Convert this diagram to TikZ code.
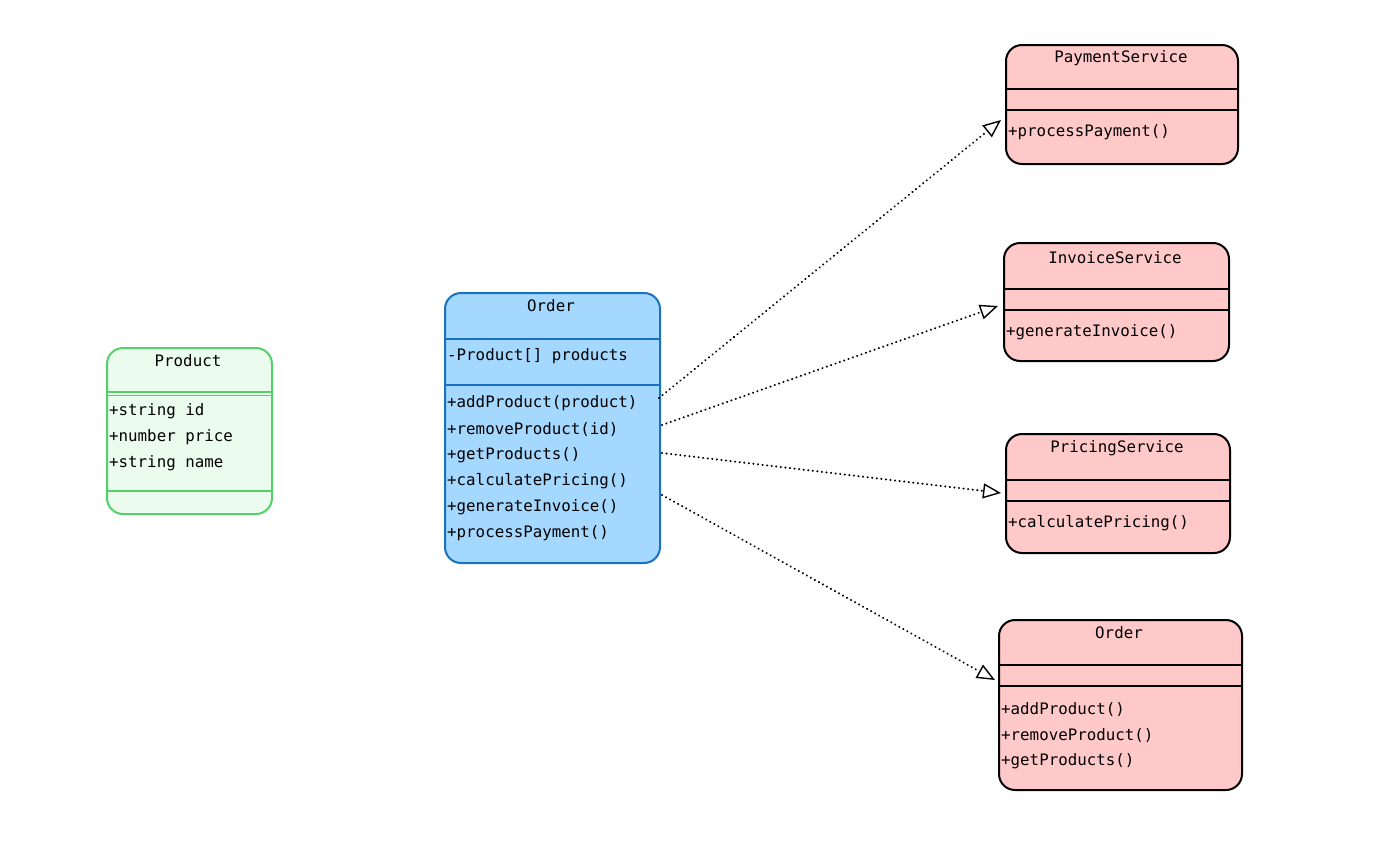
\documentclass[tikz,border=0pt]{standalone}
\usepackage{fontspec}
\setmainfont{DejaVu Sans Mono}
\usetikzlibrary{arrows.meta}
\definecolor{gfill}{HTML}{EBFBEE}
\definecolor{gdraw}{HTML}{55CF6A}
\definecolor{bfill}{HTML}{A5D8FF}
\definecolor{bdraw}{HTML}{1971C2}
\definecolor{rfill}{HTML}{FFC9C9}
\begin{document}
\begin{tikzpicture}[x=1pt,y=-1pt,
  cls/.style={rectangle, rounded corners=16pt, line width=2pt, anchor=north west, inner sep=0pt},
  greencls/.style={cls, fill=gfill, draw=gdraw},
  bluecls/.style={cls, fill=bfill, draw=bdraw},
  redcls/.style={cls, fill=rfill, draw=black},
  sep/.style={line width=1.6pt},
  txt/.style={anchor=west, inner sep=0pt, yshift=-1.5pt, font=\fontsize{15.8}{18}\selectfont},
  ttl/.style={anchor=center, inner sep=0pt, yshift=-1pt, font=\fontsize{15.8}{18}\selectfont},
  dep/.style={line width=2.2pt, dash pattern=on 0.1pt off 4.5pt, line cap=round,
    -{Triangle[open, length=18pt, width=15pt, line width=1.4pt]}}
]
\useasboundingbox[fill=white] (0,0) rectangle (1400,862);

% Product
\node[greencls, minimum width=165pt, minimum height=166pt] (prod) at (106,347) {};
\draw[sep, gdraw] (prod.west |- 0,392) -- (prod.east |- 0,392);
\draw[line width=0.8pt, gdraw] (prod.west |- 0,395) -- (prod.east |- 0,395);
\draw[sep, gdraw] (prod.west |- 0,491) -- (prod.east |- 0,491);
\node[ttl] (prodT) at (188,360) {Product};
\node[txt] (prod1) at (109,410) {+string id};
\node[txt] (prod2) at (109,436) {+number price};
\node[txt] (prod3) at (109,462) {+string name};

% Order (blue)
\node[bluecls, minimum width=215pt, minimum height=270pt] (ord) at (444,292) {};
\draw[sep, bdraw] (ord.west |- 0,339) -- (ord.east |- 0,339);
\draw[sep, bdraw] (ord.west |- 0,385) -- (ord.east |- 0,385);
\node[ttl] (ordT) at (551,305) {Order};
\node[txt] (ordA) at (447,355) {-Product[] products};
\node[txt] (ord1) at (447,402) {+addProduct(product)};
\node[txt] (ord2) at (447,428) {+removeProduct(id)};
\node[txt] (ord3) at (447,454) {+getProducts()};
\node[txt] (ord4) at (447,480) {+calculatePricing()};
\node[txt] (ord5) at (447,506) {+generateInvoice()};
\node[txt] (ord6) at (447,532) {+processPayment()};

% PaymentService
\node[redcls, minimum width=232pt, minimum height=119pt] (pay) at (1005,44) {};
\draw[sep] (pay.west |- 0,89) -- (pay.east |- 0,89);
\draw[sep] (pay.west |- 0,110) -- (pay.east |- 0,110);
\node[ttl] (payT) at (1121,57) {PaymentService};
\node[txt] (pay1) at (1008,131) {+processPayment()};

% InvoiceService
\node[redcls, minimum width=225pt, minimum height=118pt] (inv) at (1003,242) {};
\draw[sep] (inv.west |- 0,289) -- (inv.east |- 0,289);
\draw[sep] (inv.west |- 0,310) -- (inv.east |- 0,310);
\node[ttl] (invT) at (1115,257) {InvoiceService};
\node[txt] (inv1) at (1006,331) {+generateInvoice()};

% PricingService
\node[redcls, minimum width=224pt, minimum height=119pt] (pri) at (1005,433) {};
\draw[sep] (pri.west |- 0,480) -- (pri.east |- 0,480);
\draw[sep] (pri.west |- 0,501) -- (pri.east |- 0,501);
\node[ttl] (priT) at (1117,447) {PricingService};
\node[txt] (pri1) at (1008,522) {+calculatePricing()};

% Order (red)
\node[redcls, minimum width=243pt, minimum height=170pt] (ordr) at (998,619) {};
\draw[sep] (ordr.west |- 0,665) -- (ordr.east |- 0,665);
\draw[sep] (ordr.west |- 0,686) -- (ordr.east |- 0,686);
\node[ttl] (ordrT) at (1119,632) {Order};
\node[txt] (ordr1) at (1001,708) {+addProduct()};
\node[txt] (ordr2) at (1001,734) {+removeProduct()};
\node[txt] (ordr3) at (1001,760) {+getProducts()};

% connectors
\coordinate (s1) at (659,398);
\coordinate (s2) at (662,425);
\coordinate (s3) at (662,453);
\coordinate (s4) at (662,495);
\coordinate (t1) at (1001,120);
\coordinate (t2) at (998,306);
\coordinate (t3) at (1001,493);
\coordinate (t4) at (995,680);
\draw[dep] (s1) -- (t1);
\draw[dep] (s2) -- (t2);
\draw[dep] (s3) -- (t3);
\draw[dep] (s4) -- (t4);
\end{tikzpicture}
\end{document}
